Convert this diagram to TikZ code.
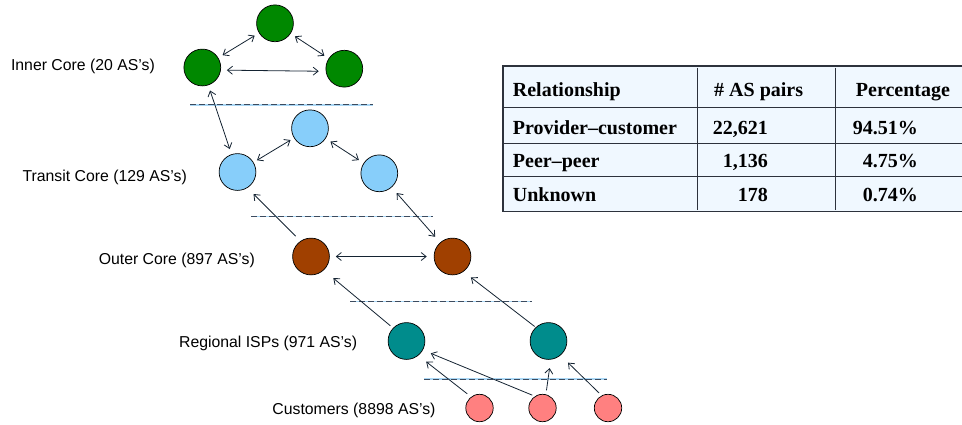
\documentclass[tikz,border=0pt]{standalone}
\usepackage{fontspec}
\setmainfont{Liberation Serif}
\newfontfamily\labelfont{Liberation Sans}
\usetikzlibrary{arrows.meta}
\definecolor{innerc}{RGB}{0,136,0}
\definecolor{transitc}{RGB}{135,206,250}
\definecolor{outerc}{RGB}{160,64,0}
\definecolor{regionc}{RGB}{0,140,140}
\definecolor{custc}{RGB}{255,128,128}
\definecolor{linkc}{RGB}{20,35,50}
\definecolor{sepblue}{RGB}{170,215,245}
\definecolor{sepdark}{RGB}{60,75,95}
\definecolor{tablefill}{RGB}{240,248,255}
\definecolor{tableline}{RGB}{45,50,60}
\begin{document}
\begin{tikzpicture}[x=1pt,y=-1pt,
  >={Straight Barb[length=5pt,width=8pt]},
  core/.style={circle,draw=black,line width=0.7pt,minimum size=36.8pt,inner sep=0pt},
  cust/.style={circle,draw=black,line width=0.7pt,minimum size=27.4pt,inner sep=0pt},
  pp/.style={<->,draw=linkc,line width=0.8pt},
  pc/.style={->,draw=linkc,line width=0.8pt},
  lab/.style={font=\labelfont\fontsize{15.8}{18}\selectfont,anchor=base east,inner sep=0pt},
  sepbase/.style={draw=sepblue,line width=1.6pt},
  sepdash/.style={draw=sepdark,line width=0.9pt,dash pattern=on 6pt off 3pt},
  tcell/.style={font=\bfseries\fontsize{20}{24}\selectfont,inner sep=0pt},
  tline/.style={draw=tableline,line width=1.1pt}]
\useasboundingbox (0,0) rectangle (962,424);

% layer labels
\node[lab] (lInner)   at (155,70.7)  {Inner Core (20 AS’s)};
\node[lab] (lTransit) at (187,181.7) {Transit Core (129 AS’s)};
\node[lab] (lOuter)   at (255,264.5) {Outer Core (897 AS’s)};
\node[lab] (lRegion)  at (357.3,347.3) {Regional ISPs (971 AS’s)};
\node[lab] (lCust)    at (435.7,414.3) {Customers (8898 AS’s)};

% separators
\foreach \y/\a/\b in {104.7/190/373, 216.5/251/433, 301.5/350/532, 379/424/607}{
  \draw[sepbase] (\a,\y) -- (\b,\y);
  \draw[sepdash] (\a,\y) -- (\b,\y);
}

% nodes
\node[core,fill=innerc] (it) at (275,23.3) {};
\node[core,fill=innerc] (il) at (202.3,67.5) {};
\node[core,fill=innerc] (ir) at (344.3,68.7) {};
\node[core,fill=transitc] (tt) at (310,128.3) {};
\node[core,fill=transitc] (tl) at (237.5,172) {};
\node[core,fill=transitc] (tr) at (379.3,173.3) {};
\node[core,fill=outerc] (ol) at (311,256.5) {};
\node[core,fill=outerc] (or) at (452.5,256.5) {};
\node[core,fill=regionc] (rl) at (406.5,341) {};
\node[core,fill=regionc] (rr) at (548.5,341) {};
\node[cust,fill=custc] (cl) at (479.5,408) {};
\node[cust,fill=custc] (cm) at (542.5,408) {};
\node[cust,fill=custc] (cr) at (608,408) {};

% connectors
\draw[pp,shorten <=5pt,shorten >=5pt] (il) -- (it);
\draw[pp,shorten <=5pt,shorten >=5pt] (it) -- (ir);
\draw[pp,shorten <=6pt,shorten >=7pt] (il.-8) -- (ir.188);
\draw[pp,shorten <=5.5pt,shorten >=5.5pt] (il) -- (tl);
\draw[pp,shorten <=4pt,shorten >=4pt] (tt) -- (tl);
\draw[pp,shorten <=5.6pt,shorten >=5.6pt] (tt) -- (tr);
\draw[pc,shorten <=6.8pt,shorten >=8.6pt] (ol.124.5) -- (tl.-58.3);
\draw[pp,shorten <=7.5pt,shorten >=7.5pt] (tr) -- (or);
\draw[pp,shorten <=6pt,shorten >=7pt] (ol) -- (or);
\draw[pc,shorten <=3.4pt,shorten >=12.4pt] (rl.136.5) -- (ol.-47.8);
\draw[pc,shorten <=1.3pt,shorten >=9.3pt] (rr.133.4) -- (or.-54.2);
\draw[pc,shorten <=4.8pt,shorten >=10pt] (cl.127.3) -- (rl.-51.4);
\draw[pc,shorten <=2.8pt,shorten >=8.5pt] (cm.123.9) -- (rl.-29);
\draw[pc,shorten <=4pt,shorten >=8.5pt] (cm.76.4) -- (rr.-83.2);
\draw[pc,shorten <=3.6pt,shorten >=10.4pt] (cr.117.6) -- (rr.-50.8);

% table
\begin{scope}
\clip (0,0) rectangle (962,424);
\draw[tline,fill=tablefill] (503,66) rectangle (980,211.7);
\foreach \y in {107.3,143.3,176.7}{\draw[tline] (503,\y) -- (980,\y);}
\draw[tline] (697.3,67.7) -- (697.3,210);
\draw[tline] (835.7,67.7) -- (835.7,210);
\end{scope}
\node[tcell,anchor=base west] (h1) at (512.7,96.7) {Relationship};
\node[tcell,anchor=base west] (h2) at (714,96.7) {\# AS pairs};
\node[tcell,anchor=base west] (h3) at (855.7,96.7) {Percentage};
\node[tcell,anchor=base west] (r1) at (512.7,134.5) {Provider–customer};
\node[tcell,anchor=base west] (r2) at (512.7,167.8) {Peer–peer};
\node[tcell,anchor=base west] (r3) at (512.7,201) {Unknown};
\node[tcell,anchor=base east] (n1) at (768,134.5) {22,621};
\node[tcell,anchor=base east] (n2) at (768,167.8) {1,136};
\node[tcell,anchor=base east] (n3) at (768,201) {178};
\node[tcell,anchor=base east] (p1) at (918,134.5) {94.51\%};
\node[tcell,anchor=base east] (p2) at (918,167.8) {4.75\%};
\node[tcell,anchor=base east] (p3) at (918,201) {0.74\%};
\end{tikzpicture}
\end{document}
